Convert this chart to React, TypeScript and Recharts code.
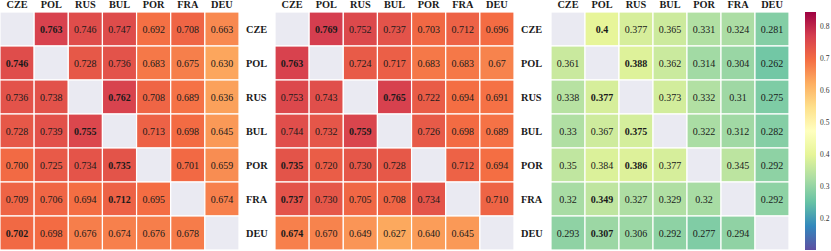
import React from 'react';
import { BarChart, Bar, XAxis, YAxis } from 'recharts';

const COUNTRIES = ['CZE', 'POL', 'RUS', 'BUL', 'POR', 'FRA', 'DEU'];

// cell texts as printed, row = first language, col = second language
const scoresLeft = [
  ['', '0.763', '0.746', '0.747', '0.692', '0.708', '0.663'],
  ['0.746', '', '0.728', '0.736', '0.683', '0.675', '0.630'],
  ['0.736', '0.738', '', '0.762', '0.708', '0.689', '0.636'],
  ['0.728', '0.739', '0.755', '', '0.713', '0.698', '0.645'],
  ['0.700', '0.725', '0.734', '0.735', '', '0.701', '0.659'],
  ['0.709', '0.706', '0.694', '0.712', '0.695', '', '0.674'],
  ['0.702', '0.698', '0.676', '0.674', '0.676', '0.678', ''],
];

const scoresMid = [
  ['', '0.769', '0.752', '0.737', '0.703', '0.712', '0.696'],
  ['0.763', '', '0.724', '0.717', '0.683', '0.683', '0.67'],
  ['0.753', '0.743', '', '0.765', '0.722', '0.694', '0.691'],
  ['0.744', '0.732', '0.759', '', '0.726', '0.698', '0.689'],
  ['0.735', '0.720', '0.730', '0.728', '', '0.712', '0.694'],
  ['0.737', '0.730', '0.705', '0.708', '0.734', '', '0.710'],
  ['0.674', '0.670', '0.649', '0.627', '0.640', '0.645', ''],
];

const scoresRight = [
  ['', '0.4', '0.377', '0.365', '0.331', '0.324', '0.281'],
  ['0.361', '', '0.388', '0.362', '0.314', '0.304', '0.262'],
  ['0.338', '0.377', '', '0.373', '0.332', '0.31', '0.275'],
  ['0.33', '0.367', '0.375', '', '0.322', '0.312', '0.282'],
  ['0.35', '0.384', '0.386', '0.377', '', '0.345', '0.292'],
  ['0.32', '0.349', '0.327', '0.329', '0.32', '', '0.292'],
  ['0.293', '0.307', '0.306', '0.292', '0.277', '0.294', ''],
];

const CB_TICKS = [0.2, 0.3, 0.4, 0.5, 0.6, 0.7, 0.8];
const VMIN = 0.1;
const VMAX = 0.844;

// matplotlib Spectral_r
const SPECTRAL_R = [
  '#5e4fa2', '#3288bd', '#66c2a5', '#abdda4', '#e6f598', '#ffffbf',
  '#fee08b', '#fdae61', '#f46d43', '#d53e4f', '#9e0142',
];

const FONT = '"Liberation Serif", "Times New Roman", serif';
const TEXT = '#1a1a1a';
const DIAG = '#eaeaf2';

const hexToRgb = (h: string) => [1, 3, 5].map(i => parseInt(h.slice(i, i + 2), 16));

function spectral(v: number) {
  const t = Math.min(1, Math.max(0, (v - VMIN) / (VMAX - VMIN))) * (SPECTRAL_R.length - 1);
  const i = Math.min(Math.floor(t), SPECTRAL_R.length - 2);
  const f = t - i;
  const a = hexToRgb(SPECTRAL_R[i]);
  const b = hexToRgb(SPECTRAL_R[i + 1]);
  const c = a.map((x, k) => Math.round(x + (b[k] - x) * f));
  return `rgb(${c[0]},${c[1]},${c[2]})`;
}

interface HeatmapProps {
  scores: string[][];
  width: number;
  showRows: boolean;
}

function Heatmap({ scores, width, showRows }: HeatmapProps) {
  const data = COUNTRIES.map((row) => {
    const d: Record<string, string | number> = { row };
    COUNTRIES.forEach((_, j) => { d[`c${j}`] = 1; });
    return d;
  });
  const rowMax = scores.map(r => Math.max(...r.filter(s => s).map(Number)));

  const cell = (j: number) => (p: any) => {
    const txt = scores[p.index][j];
    const v = Number(txt);
    const bold = txt !== '' && v === rowMax[p.index];
    return (
      <g>
        <rect x={p.x} y={p.y} width={p.width} height={p.height}
          fill={txt ? spectral(v) : DIAG} stroke="#fff" strokeWidth={1.2} />
        {txt && (
          <text x={p.x + p.width / 2} y={p.y + p.height / 2} dy="0.35em" textAnchor="middle"
            fontFamily={FONT} fontSize={10} fontWeight={bold ? 'bold' : 'normal'} fill={TEXT}>
            {txt}
          </text>
        )}
      </g>
    );
  };

  return (
    <BarChart width={width} height={251} data={data} layout="vertical"
      margin={{ top: 0, right: 0, bottom: 1, left: 0 }} barCategoryGap={0}>
      <XAxis type="number" orientation="top" domain={[0, COUNTRIES.length]} height={12}
        ticks={COUNTRIES.map((_, i) => i + 0.5)} tickFormatter={(v: number) => COUNTRIES[Math.floor(v)]}
        axisLine={false} tickLine={false} tickSize={0} tickMargin={4} interval={0}
        tick={{ fontFamily: FONT, fontSize: 10.3, fontWeight: 'bold', fill: TEXT }} />
      <YAxis type="category" dataKey="row" orientation="right" width={36} hide={!showRows}
        axisLine={false} tickLine={false} tickSize={0} tickMargin={7} interval={0}
        tick={{ fontFamily: FONT, fontSize: 10.3, fontWeight: 'bold', fill: TEXT, textAnchor: 'start' }} />
      {COUNTRIES.map((_, j) => (
        <Bar key={j} dataKey={`c${j}`} stackId="cells" isAnimationActive={false} shape={cell(j)} />
      ))}
    </BarChart>
  );
}

function ColorBar() {
  const data = [{ name: 'cb', range: [VMIN, VMAX] }];
  return (
    <BarChart width={26} height={251} data={data} margin={{ top: 12, right: 0, bottom: 1, left: 0 }}
      barCategoryGap={0}>
      <defs>
        <linearGradient id="cbGrad" x1="0" y1="1" x2="0" y2="0">
          {SPECTRAL_R.map((c, i) => (
            <stop key={i} offset={`${(i / (SPECTRAL_R.length - 1)) * 100}%`} stopColor={c} />
          ))}
        </linearGradient>
      </defs>
      <XAxis dataKey="name" hide />
      <YAxis type="number" orientation="right" domain={[VMIN, VMAX]} ticks={CB_TICKS} width={15}
        allowDataOverflow axisLine={false} tickLine={false} tickSize={2} tickMargin={2}
        tickFormatter={(v: number) => v.toFixed(1)}
        tick={{ fontFamily: FONT, fontSize: 7.5, fill: '#333', textAnchor: 'start' }} />
      <Bar dataKey="range" fill="url(#cbGrad)" isAnimationActive={false} />
    </BarChart>
  );
}

export default function App() {
  return (
    <div style={{ position: 'absolute', left: 0, top: 0, width: 831, height: 251, background: '#fff', overflow: 'hidden' }}>
      <div style={{ position: 'absolute', left: 0, top: 0 }}>
        <Heatmap scores={scoresLeft} width={275} showRows />
      </div>
      <div style={{ position: 'absolute', left: 275, top: 0 }}>
        <Heatmap scores={scoresMid} width={275} showRows />
      </div>
      <div style={{ position: 'absolute', left: 551, top: 0 }}>
        <Heatmap scores={scoresRight} width={238} showRows={false} />
      </div>
      <div style={{ position: 'absolute', left: 805, top: 0 }}>
        <ColorBar />
      </div>
    </div>
  );
}
